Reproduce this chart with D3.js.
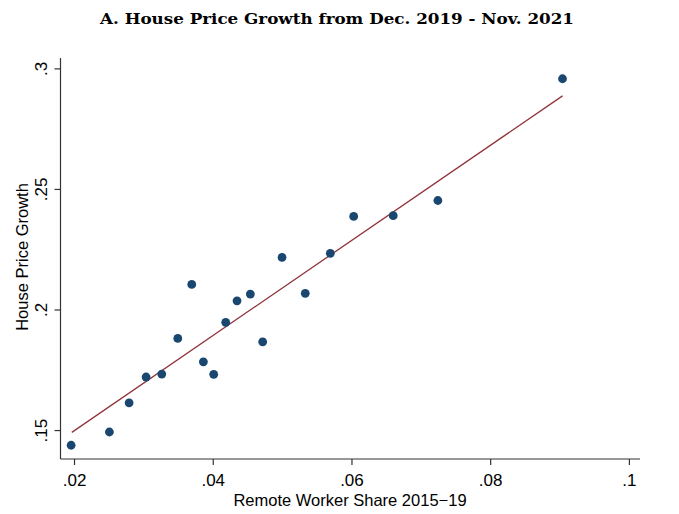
<!DOCTYPE html>
<html>
<head>
<meta charset="utf-8">
<script src="https://cdn.jsdelivr.net/npm/d3@7"></script>
<style>
  body { margin: 0; background: #fff; }
  svg { display: block; }
</style>
</head>
<body>
<div id="chart"></div>
<script>
// ---------------- data ----------------
const remoteShare = [
  0.01958, 0.02510, 0.02794, 0.03039, 0.03265, 0.03496, 0.03697, 0.03865,
  0.04014, 0.04187, 0.04350, 0.04542, 0.04720, 0.04999, 0.05334, 0.05695,
  0.06032, 0.06602, 0.07246, 0.09043
];
const priceGrowth = [
  0.1437, 0.1492, 0.1613, 0.1720, 0.1732, 0.1880, 0.2104, 0.1783,
  0.1731, 0.1947, 0.2036, 0.2064, 0.1866, 0.2216, 0.2067, 0.2233,
  0.2386, 0.2389, 0.2452, 0.2957
];
// fitted line end points
const fitX = [0.01968, 0.09043];
const fitY = [0.14905, 0.2886];

const xTicks = [0.02, 0.04, 0.06, 0.08, 0.1];
const yTicks = [0.15, 0.2, 0.25, 0.3];
const xTickLabels = [".02", ".04", ".06", ".08", ".1"];
const yTickLabels = [".15", ".2", ".25", ".3"];

const titleText = "A. House Price Growth from Dec. 2019 - Nov. 2021";
const xTitle = "Remote Worker Share 2015\u221219";
const yTitle = "House Price Growth";

// ---------------- layout ----------------
const width = 679, height = 514;
const plotLeft = 60.5, plotRight = 640, plotTop = 58, plotBottom = 459;

const svg = d3.select("#chart").append("svg")
  .attr("width", width)
  .attr("height", height);

const x = d3.scaleLinear().domain([0.01805, 0.1016]).range([plotLeft, plotRight]);
const y = d3.scaleLinear().domain([0.138, 0.3043]).range([plotBottom, plotTop]);

// title
svg.append("text")
  .attr("x", 337)
  .attr("y", 24)
  .attr("text-anchor", "middle")
  .attr("font-family", "'DejaVu Serif', serif")
  .attr("font-weight", "bold")
  .attr("font-size", 15.5)
  .attr("textLength", 474)
  .attr("lengthAdjust", "spacingAndGlyphs")
  .text(titleText);

// axes
const xAxis = d3.axisBottom(x)
  .tickValues(xTicks)
  .tickSize(6)
  .tickFormat((d, i) => xTickLabels[i]);
const yAxis = d3.axisLeft(y)
  .tickValues(yTicks)
  .tickSize(6)
  .tickFormat((d, i) => yTickLabels[i]);

const gx = svg.append("g")
  .attr("transform", "translate(0," + plotBottom + ")")
  .call(xAxis);
gx.select(".domain").attr("d", "M" + plotLeft + ",0H" + plotRight);
gx.selectAll("text")
  .attr("font-family", "'Liberation Sans', Arial, sans-serif")
  .attr("font-size", 17)
  .attr("fill", "#000")
  .attr("dy", "0")
  .attr("y", 27);

const gy = svg.append("g")
  .attr("transform", "translate(" + plotLeft + ",0)")
  .call(yAxis);
gy.select(".domain").attr("d", "M0," + plotTop + "V" + plotBottom);
gy.selectAll(".tick text")
  .attr("font-family", "'Liberation Sans', Arial, sans-serif")
  .attr("font-size", 17)
  .attr("fill", "#000")
  .attr("text-anchor", "middle")
  .attr("x", 0)
  .attr("y", 0)
  .attr("dy", "0")
  .attr("transform", "translate(-14,0) rotate(-90)");

svg.selectAll(".domain, .tick line")
  .attr("stroke", "#333")
  .attr("stroke-width", 1.2);

// axis titles
svg.append("text")
  .attr("x", 350)
  .attr("y", 506)
  .attr("text-anchor", "middle")
  .attr("font-family", "'Liberation Sans', Arial, sans-serif")
  .attr("font-size", 16.5)
  .text(xTitle);

svg.append("text")
  .attr("transform", "translate(28," + 257 + ") rotate(-90)")
  .attr("text-anchor", "middle")
  .attr("font-family", "'Liberation Sans', Arial, sans-serif")
  .attr("font-size", 16.5)
  .text(yTitle);

// fit line
const line = d3.line()
  .x(d => x(d[0]))
  .y(d => y(d[1]));
svg.append("path")
  .datum(fitX.map((v, i) => [v, fitY[i]]))
  .attr("d", line)
  .attr("fill", "none")
  .attr("stroke", "#90353b")
  .attr("stroke-width", 1.3);

// points
svg.append("g")
  .selectAll("circle")
  .data(remoteShare.map((v, i) => [v, priceGrowth[i]]))
  .enter().append("circle")
  .attr("cx", d => x(d[0]))
  .attr("cy", d => y(d[1]))
  .attr("r", 4.4)
  .attr("fill", "#1a476f");
</script>
</body>
</html>
